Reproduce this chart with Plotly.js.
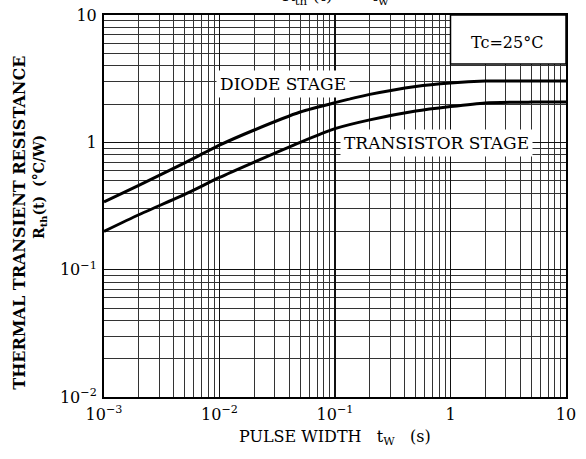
<!DOCTYPE html>
<html>
<head>
<meta charset="utf-8">
<script src="https://cdn.plot.ly/plotly-3.0.1.min.js"></script>
<style>html,body{margin:0;padding:0;background:#fff;}</style>
</head>
<body>
<div id="chart" style="width:586px;height:459px;"></div>
<script>
// Data
const pulseWidth    = [0.001, 0.002, 0.005, 0.01, 0.02, 0.05, 0.1, 0.2, 0.5, 1, 2, 5, 10];
const diodeRth      = [0.34, 0.46, 0.69, 0.95, 1.25, 1.73, 2.05, 2.38, 2.75, 2.93, 3.03, 3.03, 3.03];
const transistorRth = [0.20, 0.27, 0.39, 0.53, 0.70, 1.00, 1.28, 1.50, 1.76, 1.91, 2.04, 2.07, 2.07];

const xTickVals = [0.001, 0.01, 0.1, 1, 10];
const xTickText = ['10<sup>−3</sup>', '10<sup>−2</sup>', '10<sup>−1</sup>', '1', '10'];
const yTickVals = [0.01, 0.1, 1, 10];
const yTickText = ['10<sup>−2</sup>', '10<sup>−1</sup>', '1', '10'];

const xDecades = [-3, -2, -1, 0];
const yDecades = [-2, -1, 0];
const minorMult = [2, 3, 4, 5, 6, 7, 8, 9];
const xMinor = [], yMinor = [];
xDecades.forEach(d => minorMult.forEach(m => xMinor.push(m * Math.pow(10, d))));
yDecades.forEach(d => minorMult.forEach(m => yMinor.push(m * Math.pow(10, d))));

const serif = 'DejaVu Serif, Liberation Serif, serif';

const traces = [
  {x: pulseWidth, y: diodeRth, mode: 'lines', line: {color: '#000', width: 3, shape: 'spline', smoothing: 0.6}, hoverinfo: 'skip'},
  {x: pulseWidth, y: transistorRth, mode: 'lines', line: {color: '#000', width: 3, shape: 'spline', smoothing: 0.6}, hoverinfo: 'skip'}
];

const axisCommon = {
  type: 'log',
  showline: true, mirror: true, linecolor: '#000', linewidth: 2,
  ticks: '', showgrid: true, gridcolor: '#111', gridwidth: 1.2,
  zeroline: false,
  tickfont: {family: serif, size: 16, color: '#000'},
  minor: {showgrid: true, gridcolor: '#333', gridwidth: 1, ticks: ''}
};

function note(x, y, text, size, extra) {
  return Object.assign({xref: 'paper', yref: 'paper', x: x, y: y, xanchor: 'center', yanchor: 'middle',
    text: text, showarrow: false, font: {family: serif, size: size, color: '#000'}}, extra || {});
}

const layout = {
  width: 586, height: 459,
  margin: {l: 104, r: 20, t: 15, b: 62},
  paper_bgcolor: '#fff', plot_bgcolor: '#fff',
  showlegend: false,
  xaxis: Object.assign({}, axisCommon, {
    range: [-3, 1], tickmode: 'array', tickvals: xTickVals, ticktext: xTickText,
    minor: Object.assign({}, axisCommon.minor, {tickmode: 'array', tickvals: xMinor}),
    ticklabelstandoff: 2
  }),
  yaxis: Object.assign({}, axisCommon, {
    range: [-2, 1], tickmode: 'array', tickvals: yTickVals, ticktext: yTickText,
    minor: Object.assign({}, axisCommon.minor, {tickmode: 'array', tickvals: yMinor}),
    ticklabelstandoff: 2
  }),
  shapes: [
    {type: 'rect', xref: 'paper', yref: 'paper', x0: 0.75, x1: 1, y0: 0.872, y1: 1,
     fillcolor: '#fff', line: {color: '#000', width: 1.5}, layer: 'above'}
  ],
  annotations: [
    note(0.387, 0.819, 'DIODE STAGE', 17, {bgcolor: '#fff', borderpad: 3}),
    note(0.719, 0.665, 'TRANSISTOR STAGE', 17, {bgcolor: '#fff', borderpad: 3}),
    note(0.872, 0.929, 'Tc=25°C', 16),
    note(0.50, -0.105, 'PULSE WIDTH&nbsp;&nbsp;&nbsp;t<sub>W</sub>&nbsp;&nbsp;&nbsp;(s)', 16),
    note(-0.182, 0.456, '<b>THERMAL TRANSIENT RESISTANCE</b>', 16, {textangle: -90}),
    note(-0.1385, 0.55, '<b>R<sub>th</sub>(t)</b>&nbsp;&nbsp;<b>(°C/W)</b>', 14, {textangle: -90}),
    note(0.50, 1.014, 'R<sub>th</sub> (t)&nbsp;&nbsp;—&nbsp;&nbsp;t<sub>w</sub>', 17, {yanchor: 'bottom'})
  ]
};

Plotly.newPlot('chart', traces, layout, {staticPlot: true, displayModeBar: false});
</script>
</body>
</html>
